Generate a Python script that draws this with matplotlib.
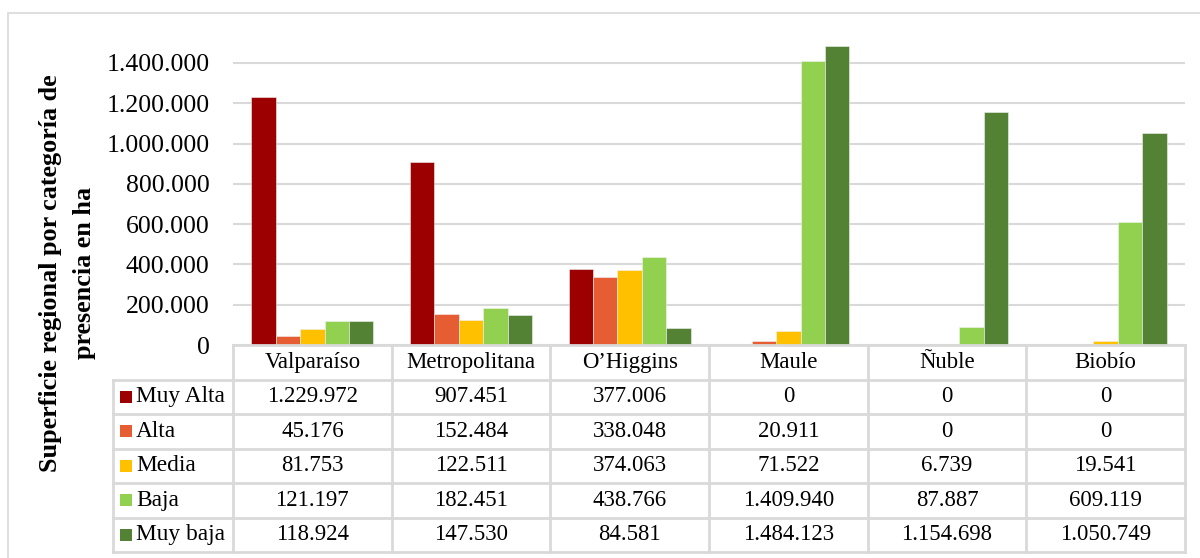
import matplotlib
matplotlib.use("Agg")
import matplotlib.pyplot as plt
import numpy as np
from matplotlib.lines import Line2D
from matplotlib.patches import Rectangle

regions = ["Valparaíso", "Metropolitana", "O\u2019Higgins", "Maule", "Ñuble", "Biobío"]
categories = ["Muy Alta", "Alta", "Media", "Baja", "Muy baja"]
muy_alta = [1229972, 907451, 377006, 0, 0, 0]
alta = [45176, 152484, 338048, 20911, 0, 0]
media = [81753, 122511, 374063, 71522, 6739, 19541]
baja = [121197, 182451, 438766, 1409940, 87887, 609119]
muy_baja = [118924, 147530, 84581, 1484123, 1154698, 1050749]
series = [muy_alta, alta, media, baja, muy_baja]
colors = ["#9C0000", "#E65C33", "#FFC000", "#92D050", "#548235"]
y_ticks = [0, 200000, 400000, 600000, 800000, 1000000, 1200000, 1400000]

plt.rcParams["font.family"] = ["Liberation Serif", "DejaVu Serif"]

W, H = 1200, 558
fig = plt.figure(figsize=(W / 100, H / 100), dpi=100)


def fx(px):
    return px / W


def fy(py):
    return 1 - py / H


def es_num(v):
    return f"{int(v):,}".replace(",", ".")


grid_col = "#D9D9D9"

# outer chart frame
fig.add_artist(Rectangle((fx(7.5), fy(1000)), fx(1300), (1000 - 13) / H,
                         transform=fig.transFigure, fill=False,
                         edgecolor=grid_col, linewidth=1.2))

# bar plot area
px_per_200k = 40.3
top_px = 345 - px_per_200k * 8
ax = fig.add_axes([fx(233), fy(345), fx(1185) - fx(233), (345 - top_px) / H])
ax.set_xlim(-0.5, 5.5)
ax.set_ylim(0, 1600000)
x = np.arange(len(regions))
w = 1 / 6.5
for i, (vals, c) in enumerate(zip(series, colors)):
    ax.bar(x + (i - 2) * w, vals, width=w, color=c, edgecolor="#F2F2F2",
           linewidth=0.4, zorder=3)
ax.set_yticks(y_ticks)
ax.set_yticklabels([es_num(v) for v in y_ticks], fontsize=18.5)
ax.tick_params(axis="y", length=0, pad=17)
ax.set_xticks([])
ax.grid(axis="y", color=grid_col, linewidth=1.5, zorder=0)
for s in ax.spines.values():
    s.set_visible(False)

fig.text(fx(51), fy(273), "Superficie regional por categoría de",
         rotation=90, ha="center", va="center", fontsize=18.8, fontweight="bold")
fig.text(fx(85), fy(273), "presencia en ha",
         rotation=90, ha="center", va="center", fontsize=18.8, fontweight="bold")

# data table under the bars
left_px = 113
unit = (1185 - 233) / 6
x_left = -0.5 - (233 - left_px) / unit
tax = fig.add_axes([fx(left_px), fy(552), fx(1185) - fx(left_px), (552 - 345) / H])
tax.set_xlim(x_left, 5.5)
tax.set_ylim(6, 0)
tax.axis("off")
lw = 2.0
for k in range(7):
    tax.add_line(Line2D([-0.5 + k, -0.5 + k], [0, 6], color=grid_col, lw=lw, clip_on=False))
tax.add_line(Line2D([x_left, x_left], [1, 6], color=grid_col, lw=lw, clip_on=False))
tax.add_line(Line2D([-0.5, 5.5], [0, 0], color=grid_col, lw=lw, clip_on=False))
for r in range(1, 7):
    tax.add_line(Line2D([x_left, 5.5], [r, r], color=grid_col, lw=lw, clip_on=False))

for j, name in enumerate(regions):
    tax.text(j, 0.5, name, ha="center", va="center", fontsize=16.4)
for i, (cat, vals, c) in enumerate(zip(categories, series, colors)):
    yc = i + 1.5
    tax.scatter([x_left + 13 / unit], [yc], marker="s", s=72, color=c,
                linewidths=0, clip_on=False)
    tax.text(x_left + 23 / unit, yc, cat, ha="left", va="center", fontsize=16.8)
    for j, v in enumerate(vals):
        tax.text(j, yc, es_num(v), ha="center", va="center", fontsize=16.4)

fig.savefig("out.png", dpi=100)
